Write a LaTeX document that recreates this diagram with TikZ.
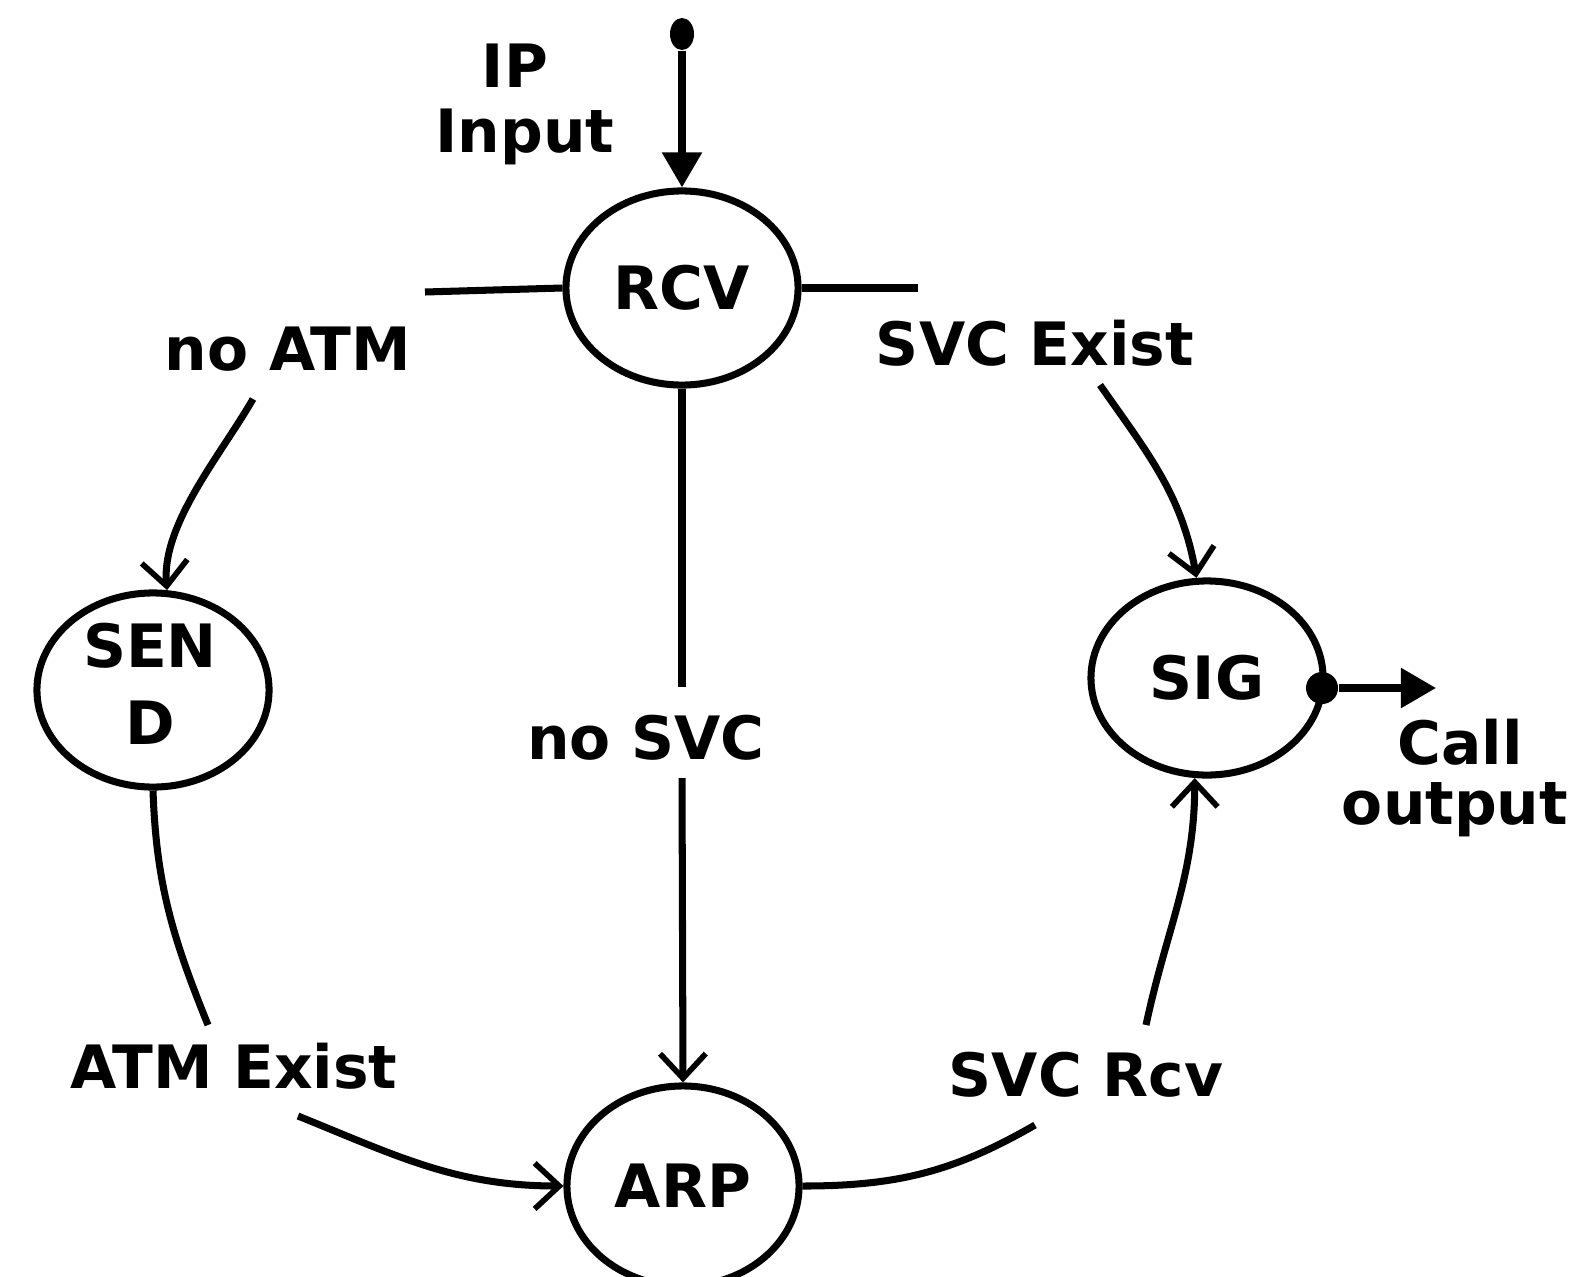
\documentclass[tikz,border=0pt]{standalone}
\usepackage{fontspec}
\setmainfont{DejaVu Sans}
\usetikzlibrary{shapes.geometric,arrows.meta}
\begin{document}
\begin{tikzpicture}[x=0.01cm,y=-0.01cm,
  every node/.style={font=\bfseries\fontsize{17}{22}\selectfont},
  state/.style={draw, ellipse, line width=2pt, minimum width=2.32cm, minimum height=1.94cm, inner sep=0pt},
  lbl/.style={inner sep=1pt},
  conn/.style={line width=2pt},
  barb/.style={conn,-{Straight Barb[length=7pt,width=13pt,line width=1.6pt]}},
  solid tip/.style={conn,-{Triangle[length=10pt,width=11pt]}}]
\useasboundingbox (0,0) rectangle (1583,1276);
\clip (0,0) rectangle (1583,1276);
% states
\node[state] (rcv) at (682,288) {RCV};
\node[state] (send) at (153,690) {};
\node[align=center] (sendtxt) at (150,684) {SEN\\D};
\node[state] (sig) at (1207,678) {SIG};
\node[state, minimum height=2.0cm] (arp) at (683,1186) {ARP};
% start dot
\node[fill, ellipse, minimum width=0.24cm, minimum height=0.32cm, inner sep=0pt] (start) at (682,34) {};
\node[lbl] (ip) at (515,66) {IP};
\node[lbl] (input) at (525,137) {Input};
% labels
\node[lbl] (noatm) at (288,349) {no ATM};
\node[lbl] (svcexist) at (1035,343) {SVC Exist};
\node[lbl] (nosvc) at (646,738) {no SVC};
\node[lbl] (atmexist) at (234,1066) {ATM Exist};
\node[lbl] (svcrcv) at (1086,1075) {SVC Rcv};
\node[lbl] (call) at (1460,742) {Call};
\node[lbl] (output) at (1455,810) {output};
% coordinates
\coordinate (a1) at (425,292);
\coordinate (a2) at (253,399);
\coordinate (b1) at (918,288);
\coordinate (b2) at (1100,385);
\coordinate (c1) at (682,687);
\coordinate (c2) at (682,778);
\coordinate (d1) at (208,1025);
\coordinate (e1) at (298,1116);
\coordinate (f1) at (1035,1125);
\coordinate (f2) at (1146,1025);
\coordinate (o1) at (1436,688);
% connectors
\draw[solid tip] (start) -- (rcv.north);
\draw[conn] (rcv.west) -- (a1);
\draw[barb] (a2) to[out=240,in=95,looseness=0.8] (send.82);
\draw[conn] (rcv.east) -- (b1);
\draw[barb] (b2) to[out=-55,in=100] (sig.96);
\draw[conn] (rcv.south) -- (c1);
\draw[barb] (c2) -- (arp.north);
\draw[conn] (send.south) to[out=-88,in=112] (d1);
\draw[barb] (e1) to[out=-22,in=180] (arp.west);
\draw[conn] (arp.east) to[out=0,in=-150] (f1);
\draw[barb] (f2) to[out=78,in=-90] (sig.-97);
\node[fill, circle, minimum size=0.32cm, inner sep=0pt] (sigdot) at (1322,688) {};
\draw[solid tip] (sigdot) -- (o1);
\end{tikzpicture}
\end{document}
